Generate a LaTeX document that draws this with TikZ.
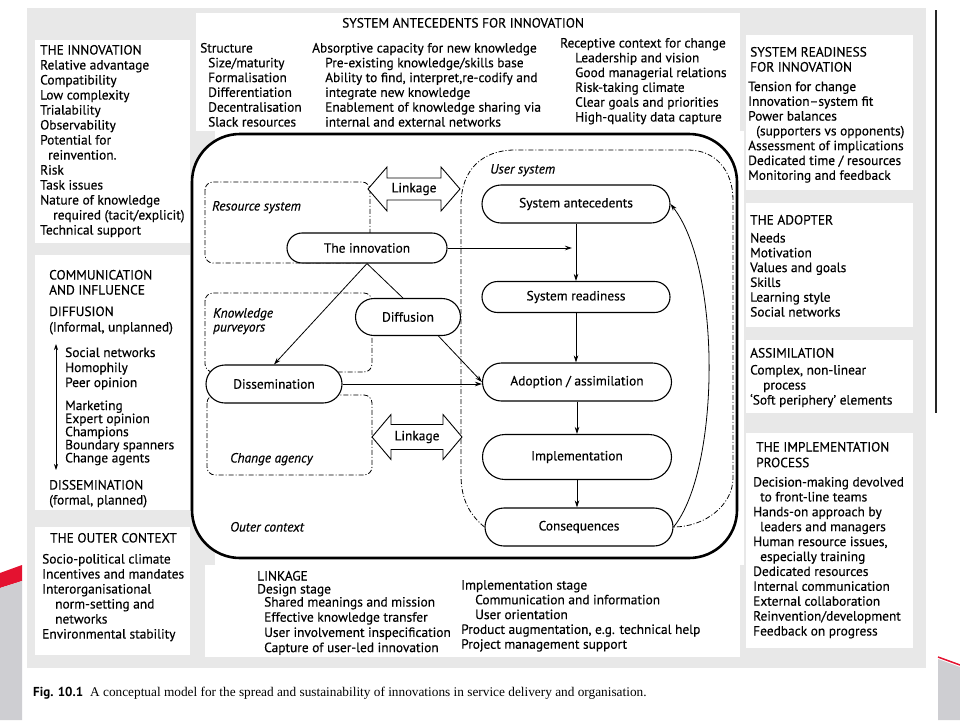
\documentclass[tikz,border=0pt]{standalone}
\usepackage{fontspec}
\setmainfont{PT Sans}[UprightFeatures={FakeBold=0.3},ItalicFeatures={FakeBold=0.3}]
\newfontfamily\capfont{Liberation Serif}
\usetikzlibrary{shapes.misc,arrows.meta}
\definecolor{stip}{gray}{0.91}
\definecolor{decored}{RGB}{228,18,48}
\definecolor{decogray}{RGB}{206,206,210}
\newcommand\fnt{\fontsize{13.4}{15}\selectfont}
\tikzset{
 txt/.style={inner sep=0pt, anchor=base west, font=\fnt},
 itl/.style={inner sep=0pt, anchor=base west, font=\fnt\itshape},
 stadium/.style={draw, rounded rectangle, fill=white, line width=1.1pt, inner sep=0pt, font=\fnt},
 dashdot/.style={line width=0.8pt, dash pattern=on 5pt off 2pt on 1pt off 2pt},
 pbox/.style={dashdot, rounded corners=8pt},
 arr/.style={line width=0.8pt, -{Stealth[length=7pt,width=4.5pt]}},
 plain/.style={line width=0.8pt},
 panel/.style={fill=white, draw=none},
 linkarrow/.style={line width=0.9pt, fill=white, line join=miter},
}
\newcommand\tcol[5]{\foreach \txtline [count=\i] in {#5} {\node[txt] (#1-\i) at (#2,{#3+(\i-1)*#4}) {\txtline};}}
\begin{document}
\begin{tikzpicture}[x=1pt,y=-1pt]
\useasboundingbox (0,0) rectangle (960,720);
\fill[white] (0,0) rectangle (960,720);
% scanned page background
\fill[stip] (27,8) rectangle (926,668);
\fill[panel] (35,40) rectangle (190,243);
\fill[panel] (196,13) rectangle (740,131);
\fill[panel] (746,35) rectangle (913,190);
\fill[panel] (746,203) rectangle (913,327);
\fill[panel] (746,340) rectangle (913,413);
\fill[panel] (746,433) rectangle (913,648);
\fill[panel] (35,255) rectangle (190,510);
\fill[panel] (35,527) rectangle (190,655);
\fill[panel] (215,131) rectangle (744,565);
\fill[panel] (205,565) rectangle (740,657);
% side decorations
\fill[decored] (0,573) -- (22,565) -- (22,581) -- (0,588) -- cycle;
\fill[decogray] (0,588) -- (22,581) -- (22,720) -- (0,720) -- cycle;
\fill[decogray] (938,659) -- (960,667) -- (960,720) -- (938,720) -- cycle;
\draw[decored, line width=1.5pt] (938,657) -- (960,665);
\draw[black!85, line width=1.8pt] (936,10) -- (936,413);
% outer context
\draw[line width=2.6pt, rounded corners=48pt, fill=white] (192,134) rectangle (737,558);
% dash-dot systems
\draw[pbox] (205,182) rectangle (370,263);
\draw[pbox] (205,293) rectangle (372,372);
\draw[pbox] (207,395) rectangle (372,475);
% nodes
\node[stadium, minimum width=160pt, minimum height=30pt] (inno) at (367,248) {The innovation};
\node[stadium, minimum width=105pt, minimum height=37pt] (diff) at (408,317) {Diffusion};
\node[stadium, minimum width=136pt, minimum height=38pt] (diss) at (274,384) {Dissemination};
\node[stadium, minimum width=188pt, minimum height=38pt] (sa) at (576,204) {System antecedents};
\node[stadium, minimum width=188pt, minimum height=31pt] (sr) at (576,297) {System readiness};
\node[stadium, minimum width=189pt, minimum height=38pt] (ad) at (577,382) {Adoption / assimilation};
\node[stadium, minimum width=189pt, minimum height=45pt] (impl) at (577,457) {Implementation};
\node[stadium, minimum width=188pt, minimum height=38pt] (cons) at (579,527) {Consequences};
% user system outline
\draw[dashdot] (cons.west) .. controls (470,515) and (461,500) .. (461,475) -- (461,205) .. controls (461,170) and (482,150) .. (515,150) -- (688,150) .. controls (715,150) and (733,170) .. (733,200) -- (733,478) .. controls (733,505) and (705,527) .. (cons.east);
% connectors
\coordinate (innoend) at (572,248);
\draw[arr] (inno.south) -- (diss.north);
\draw[plain] (inno.south) -- (diff.105);
\draw[arr] (diff.-32) -- (ad.west);
\draw[arr] (diss.east) -- (diss.east -| ad.west);
\draw[arr] (inno.east) -- (inno.east -| innoend);
\draw[arr] (sa.south) -- (sr.north);
\draw[arr] (sr.south) -- (sr.south |- ad.north);
\draw[arr] (ad.south) -- (ad.south |- impl.north);
\draw[arr] (impl.south) -- (impl.south |- cons.north);
\draw[arr] (cons.east) .. controls (720,470) and (722,270) .. (sa.east);
% linkage arrows
\coordinate (lkA) at (414,189);
\draw[linkarrow] (368,189) -- (387,167) -- (387,178) -- (441,178) -- (441,167) -- (460,189) -- (441,211) -- (441,200) -- (387,200) -- (387,211) -- cycle;
\node[font=\fnt, inner sep=0pt] (linkA) at (lkA) {Linkage};
\coordinate (lkB) at (417,437);
\draw[linkarrow] (372,437) -- (391,414.5) -- (391,424.5) -- (443,424.5) -- (443,414.5) -- (462,437) -- (443,459.5) -- (443,449.5) -- (391,449.5) -- (391,459.5) -- cycle;
\node[font=\fnt, inner sep=0pt] (linkB) at (lkB) {Linkage};
% italic labels
\node[itl] (lres) at (212,210.5) {Resource system};
\node[itl] (lkn1) at (213,317.5) {Knowledge};
\node[itl] (lkn2) at (213,331.5) {purveyors};
\node[itl] (lchg) at (230,462.5) {Change agency};
\node[itl] (lout) at (230,531.5) {Outer context};
\node[itl] (luser) at (490,173.5) {User system};
% left vertical double arrow
\coordinate (va1) at (56,344);
\coordinate (va2) at (56,470);
\draw[line width=0.7pt, {Stealth[length=6pt,width=4pt]}-{Stealth[length=6pt,width=4pt]}] (va1) -- (va2);
% panel texts
\tcol{inn}{40}{54.5}{15}{THE INNOVATION,Relative advantage,Compatibility,Low complexity,Trialability,Observability,Potential for,\hspace*{8pt}reinvention.,Risk,Task issues,Nature of knowledge,\hspace*{13pt}required (tacit/explicit),Technical support}
\node[txt] (sat) at (342,27.5) {SYSTEM ANTECEDENTS FOR INNOVATION};
\tcol{str}{200}{52.5}{14.8}{Structure,\hspace*{8pt}Size/maturity,\hspace*{8pt}Formalisation,\hspace*{8pt}Differentiation,\hspace*{8pt}Decentralisation,\hspace*{8pt}Slack resources}
\tcol{abs}{312}{52.5}{14.8}{Absorptive capacity for new knowledge,\hspace*{13pt}Pre-existing knowledge/skills base,\hspace*{13pt}{Ability to find, interpret,re-codify and},\hspace*{13pt}integrate new knowledge,\hspace*{13pt}Enablement of knowledge sharing via,\hspace*{13pt}internal and external networks}
\tcol{rec}{560}{47.5}{14.8}{Receptive context for change,\hspace*{15pt}Leadership and vision,\hspace*{15pt}Good managerial relations,\hspace*{15pt}Risk-taking climate,\hspace*{15pt}Clear goals and priorities,\hspace*{15pt}High-quality data capture}
\tcol{rdt}{750}{56.5}{15}{SYSTEM READINESS,FOR INNOVATION}
\tcol{rdy}{748}{91}{14.8}{Tension for change,Innovation–system fit,Power balances,\hspace*{8pt}(supporters vs opponents),Assessment of implications,Dedicated time / resources,Monitoring and feedback}
\node[txt] (adt) at (750,224.5) {THE ADOPTER};
\tcol{adp}{750}{242.5}{14.8}{Needs,Motivation,Values and goals,Skills,Learning style,Social networks}
\node[txt] (ast) at (750,357.5) {ASSIMILATION};
\tcol{asm}{750}{374.5}{15}{{Complex, non-linear},\hspace*{13pt}process,`Soft periphery' elements}
\tcol{ipt}{756}{451.5}{15.7}{THE IMPLEMENTATION,PROCESS}
\tcol{ipl}{753}{486.5}{14.9}{Decision-making devolved,\hspace*{7pt}to front-line teams,Hands-on approach by,\hspace*{7pt}leaders and managers,{Human resource issues,},\hspace*{7pt}especially training,Dedicated resources,Internal communication,External collaboration,Reinvention/development,Feedback on progress}
\tcol{com}{49}{279.5}{15}{COMMUNICATION,AND INFLUENCE}
\tcol{dif}{49}{316}{15.5}{DIFFUSION,{(Informal, unplanned)}}
\tcol{soc}{65}{357}{15}{Social networks,Homophily,Peer opinion}
\tcol{mkt}{65}{410}{13.1}{Marketing,Expert opinion,Champions,Boundary spanners,Change agents}
\tcol{dis}{49}{489.5}{15}{DISSEMINATION,{(formal, planned)}}
\node[txt] (oct) at (50,542.5) {THE OUTER CONTEXT};
\tcol{out}{42}{563.5}{15}{Socio-political climate,Incentives and mandates,Interorganisational,\hspace*{13pt}norm-setting and,\hspace*{13pt}networks,Environmental stability}
\tcol{lnk}{257}{580.5}{13}{LINKAGE,Design stage}
\tcol{dsg}{264}{606.5}{15.2}{Shared meanings and mission,Effective knowledge transfer,User involvement inspecification,Capture of user-led innovation}
\tcol{imp}{461}{589.5}{14.8}{Implementation stage,\hspace*{14pt}Communication and information,\hspace*{14pt}User orientation,{Product augmentation, e.g. technical help},Project management support}
% caption
\node[inner sep=0pt, anchor=base west, font=\fontsize{13}{15}\selectfont\bfseries] (figno) at (33,696) {Fig. 10.1};
\node[inner sep=0pt, anchor=base west, font=\capfont\fontsize{13.3}{15}\selectfont] (cap) at (90,696) {A conceptual model for the spread and sustainability of innovations in service delivery and organisation.};
\end{tikzpicture}
\end{document}
